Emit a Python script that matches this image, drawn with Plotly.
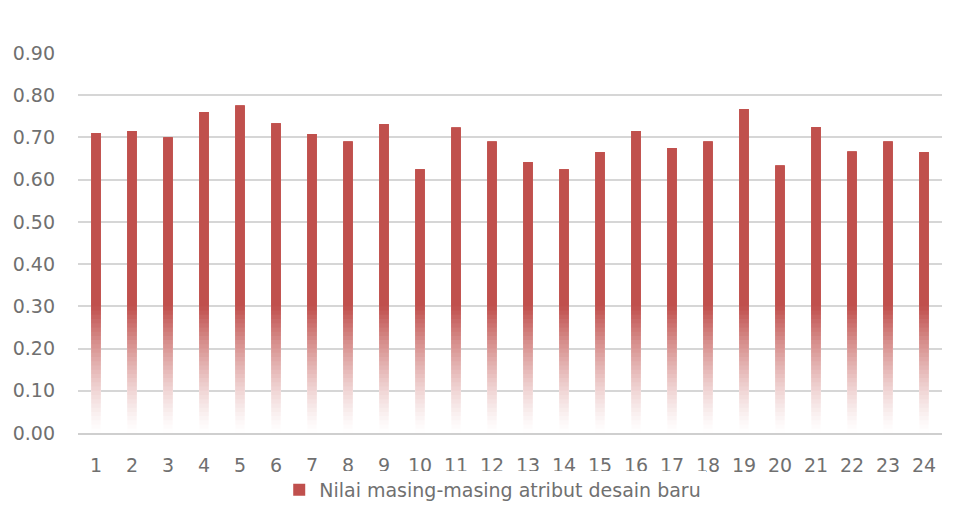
import plotly.graph_objects as go

categories = [str(i) for i in range(1, 25)]
values = [0.71, 0.715, 0.70, 0.76, 0.775, 0.733, 0.708, 0.69, 0.731, 0.624,
          0.723, 0.69, 0.641, 0.624, 0.665, 0.715, 0.675, 0.69, 0.767, 0.633,
          0.724, 0.666, 0.69, 0.665]
series_name = "Nilai masing-masing atribut desain baru"
y_ticks = [0.0, 0.1, 0.2, 0.3, 0.4, 0.5, 0.6, 0.7, 0.8, 0.9]
y_tick_labels = ["0.00", "0.10", "0.20", "0.30", "0.40", "0.50", "0.60", "0.70", "0.80", "0.90"]

bar_rgb = (192, 80, 77)
fade_top = 0.30
n_seg = 30
seg_h = fade_top / n_seg


def blend(a):
    return "rgb(%d,%d,%d)" % tuple(round(255 + (c - 255) * a) for c in bar_rgb)


fig = go.Figure()
# gradient emulation: each layer spans from its start up to the bar value,
# later (darker) layers are drawn above and cover the upper part
for k in range(n_seg):
    lo = k * seg_h
    frac = (k + 0.5) / n_seg
    alpha = max(0.0, min(1.0, frac ** 1.3))
    fig.add_trace(go.Bar(
        x=categories, y=[max(0.0, v - lo) for v in values], base=[lo] * len(values),
        marker=dict(color=blend(alpha), line=dict(width=0)),
        width=0.25, showlegend=False, hoverinfo="skip"))
# solid upper part
fig.add_trace(go.Bar(
    x=categories, y=[v - fade_top for v in values], base=[fade_top] * len(values),
    marker=dict(color=blend(1.0), line=dict(width=0)),
    width=0.25, name=series_name, showlegend=True))

fig.update_layout(
    width=949, height=514,
    margin=dict(l=70, r=15, t=45, b=89, autoexpand=False),
    barmode="overlay",
    paper_bgcolor="white", plot_bgcolor="white",
    font=dict(family="DejaVu Sans", size=19, color="#707070"),
    showlegend=True,
    legend=dict(orientation="h", x=0.48, xanchor="center", y=-0.10, yanchor="top",
                font=dict(size=19, color="#707070"), itemwidth=30),
    xaxis=dict(type="category", showgrid=False, showline=True, linecolor="#cfcfcf",
               linewidth=2, ticks="", ticklabelstandoff=14, automargin=False),
    yaxis=dict(range=[0, 0.9], tickvals=y_ticks, ticktext=y_tick_labels,
               showgrid=True, gridcolor="#d6d6d6", gridwidth=1.5, zeroline=False,
               showline=False, ticks="", ticklabelstandoff=22, automargin=False),
)

fig.write_html("out.html")
